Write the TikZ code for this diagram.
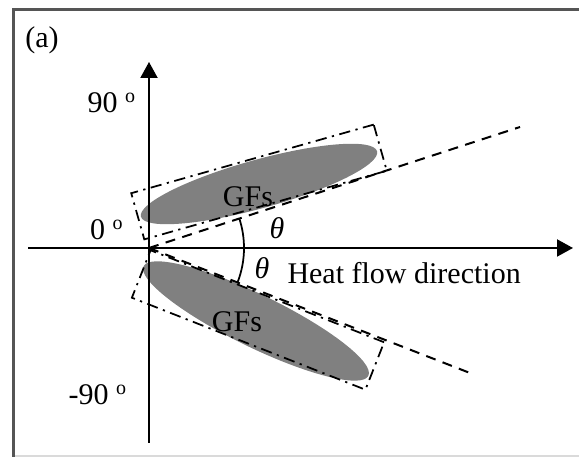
\documentclass[tikz,border=0pt]{standalone}
\usepackage{fontspec}
\setmainfont{Liberation Serif}
\usetikzlibrary{arrows.meta,shapes.geometric}

\begin{document}
\begin{tikzpicture}[x=0.4pt, y=0.4pt, font=\fontsize{12}{14}\selectfont]

\definecolor{gfgray}{HTML}{808080}
\definecolor{gfframe}{HTML}{555555}
\definecolor{gfframelight}{HTML}{DADADA}

% raised small o used as the degree mark
\newcommand{\gfdeg}{\textsuperscript{o}}

\tikzset{
  axisline/.style={
    draw=black, line width=0.8pt, -{Triangle[length=6.4pt,width=6.8pt]}
  },
  rayline/.style={draw=black, line width=0.8pt, dash pattern=on 4pt off 3pt},
  fibre/.style={ellipse, fill=gfgray, inner sep=0pt},
  fibrebox/.style={
    rectangle, draw=black, line width=0.7pt, inner sep=0pt,
    dash pattern=on 4.5pt off 2.2pt on 0.9pt off 2.2pt
  },
  anglearc/.style={draw=black, line width=0.7pt},
  lbl/.style={inner sep=0pt}
}

\useasboundingbox (0,0) rectangle (579,457);

% Outer frame, cut off on the right.
\draw[gfframelight, line width=0.6pt] (13,1) -- (579,1);
\draw[gfframe, line width=1.2pt] (13,0) -- (13,447) -- (580,447);
\node[lbl] (tag) at (42,417) {(a)};

% The two fibres, each inside its dash-dotted bounding box.
\node[fibre, minimum width=98pt, minimum height=19.4pt, rotate=15.5]
  (gfup) at (259,273) {};
\node[fibrebox, minimum width=100.8pt, minimum height=19.2pt, rotate=15.8]
  (boxup) at (259,275) {};
\node[fibre, minimum width=100pt, minimum height=21pt, rotate=-26]
  (gfdown) at (256,136) {};
\node[fibrebox, minimum width=100.4pt, minimum height=20.4pt, rotate=-21.5]
  (boxdown) at (258,137) {};
\node[lbl] (gfuptext) at (248,260) {GFs};
\node[lbl] (gfdowntext) at (237,135) {GFs};

% Axes.
\coordinate (o) at (149,209);
\coordinate (ybot) at (149,14);
\coordinate (ytop) at (149,395);
\coordinate (xleft) at (28,209);
\coordinate (xright) at (573,209);
\draw[axisline] (ybot) -- (ytop);
\draw[axisline] (xleft) -- (xright);

% Fibre directions and their angle to the heat flow.
\coordinate (rayup) at (520,330);
\coordinate (raydown) at (470,84);
\draw[rayline] (o) -- (rayup);
\draw[rayline] (o) -- (raydown);
\draw[anglearc] ([xshift=38pt]o) arc[start angle=0, end angle=18, radius=38pt];
\draw[anglearc] ([xshift=38pt]o) arc[start angle=0, end angle=-21, radius=38pt];
\node[lbl] (thup) at (277,229) {\itshape θ};
\node[lbl] (thdown) at (262,189) {\itshape θ};

\node[lbl, anchor=west] (heat) at (287,184) {Heat flow direction};
\node[lbl] (deg90) at (112,354) {90 \gfdeg};
\node[lbl] (deg0) at (107,227) {0 \gfdeg};
\node[lbl] (degm90) at (98,62) {-90 \gfdeg};

\end{tikzpicture}
\end{document}
